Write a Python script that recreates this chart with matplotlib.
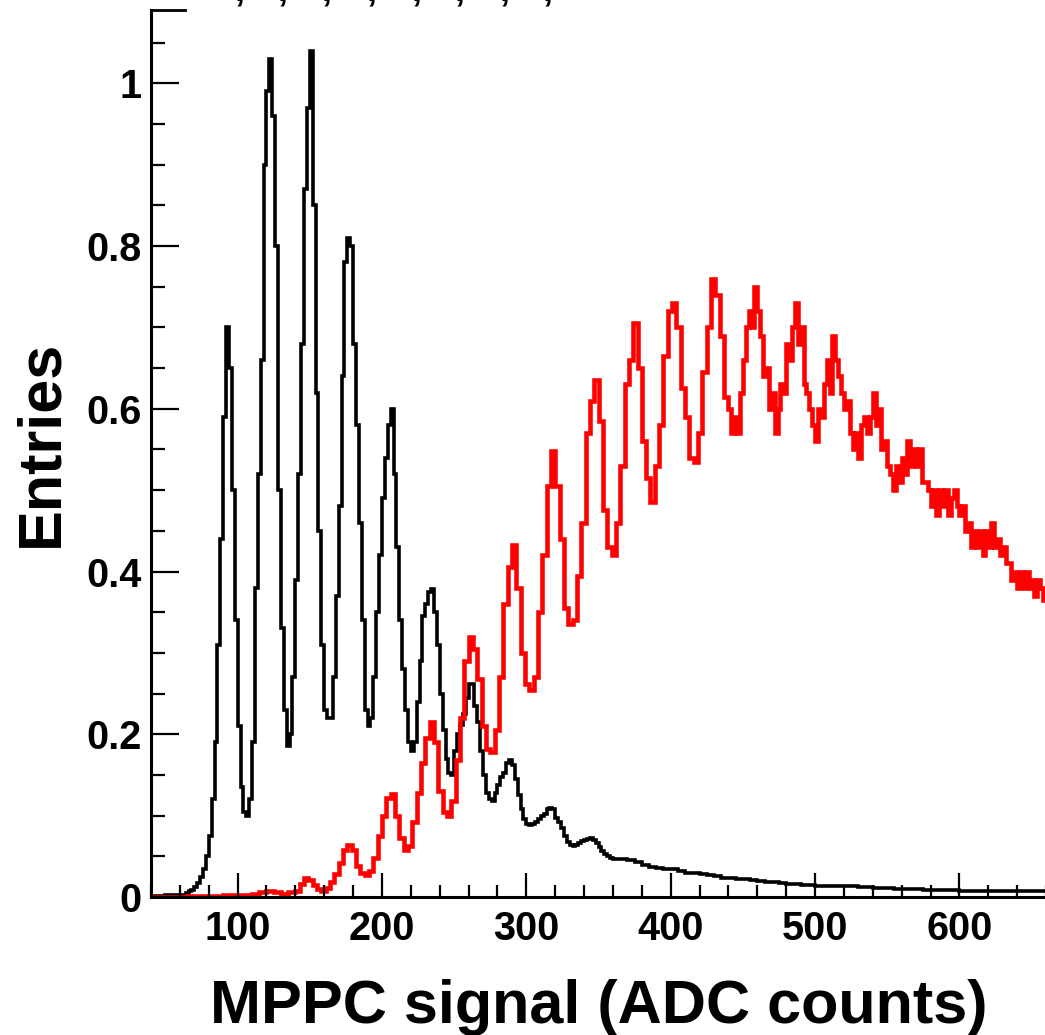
#!/usr/bin/env python3
"""MPPC charge spectra: two overlaid histograms (black / red), ROOT-style frame."""
import matplotlib

matplotlib.use("Agg")
import matplotlib.pyplot as plt
import numpy as np
from matplotlib.ticker import MultipleLocator, FuncFormatter

plt.rcParams["font.family"] = ["Liberation Sans", "DejaVu Sans"]
plt.rcParams["font.weight"] = "bold"

BLACK = "#000000"
RED = "#ff0000"

# black histogram: 5-count bins 40-60, 2-count bins 60-360, 5-count bins 360-660
black_edges = np.concatenate([np.arange(40, 60, 5), np.arange(60, 360, 2), np.arange(360, 661, 5)])
black_vals = [
    0.001, 0.001, 0.002, 0.002,
    0.003, 0.003, 0.005, 0.007, 0.009, 0.012, 0.017, 0.025, 0.035, 0.05,
    0.075, 0.12, 0.19, 0.31, 0.44, 0.59, 0.70, 0.65, 0.50, 0.34,
    0.21, 0.135, 0.105, 0.10, 0.12, 0.19, 0.38, 0.52, 0.66, 0.90,
    0.99, 1.03, 0.96, 0.80, 0.50, 0.33, 0.23, 0.185, 0.20, 0.27,
    0.39, 0.52, 0.68, 0.87, 0.97, 1.04, 0.85, 0.62, 0.45, 0.31,
    0.23, 0.22, 0.22, 0.27, 0.37, 0.48, 0.64, 0.78, 0.81, 0.80,
    0.68, 0.58, 0.46, 0.34, 0.23, 0.21, 0.22, 0.27, 0.35, 0.42,
    0.49, 0.54, 0.58, 0.60, 0.52, 0.43, 0.34, 0.28, 0.23, 0.19,
    0.18, 0.19, 0.24, 0.29, 0.345, 0.36, 0.375, 0.378, 0.35, 0.31,
    0.25, 0.205, 0.17, 0.152, 0.15, 0.18, 0.20, 0.212, 0.225, 0.245,
    0.262, 0.262, 0.235, 0.215, 0.18, 0.15, 0.128, 0.12, 0.118, 0.128,
    0.138, 0.148, 0.152, 0.165, 0.168, 0.162, 0.145, 0.125, 0.108, 0.096,
    0.09, 0.089, 0.09, 0.092, 0.096, 0.099, 0.102, 0.108, 0.11, 0.108,
    0.097, 0.092, 0.085, 0.075, 0.068, 0.064, 0.063, 0.064, 0.066, 0.069,
    0.07, 0.071, 0.072, 0.07, 0.066, 0.061, 0.057, 0.053, 0.05, 0.048,
    0.047, 0.047, 0.046, 0.043, 0.039, 0.037, 0.036, 0.035, 0.034, 0.032,
    0.030, 0.029, 0.028, 0.027, 0.026, 0.024, 0.023, 0.022, 0.022, 0.021,
    0.020, 0.019, 0.018, 0.017, 0.016, 0.016, 0.015, 0.015, 0.014, 0.014,
    0.014, 0.013, 0.013, 0.013, 0.012, 0.012, 0.011, 0.011, 0.011, 0.010,
    0.010, 0.010, 0.010, 0.009, 0.009, 0.009, 0.009, 0.009, 0.008, 0.008,
    0.008, 0.008, 0.008, 0.008, 0.008, 0.007, 0.007, 0.007, 0.007, 0.007,
]

# red histogram: 5-count bins 40-140, 3-count bins 140-440, 2-count bins 440-660
red_edges = np.concatenate([np.arange(40, 140, 5), np.arange(140, 440, 3), np.arange(440, 661, 2)])
red_vals = [
    0.0, 0.0, 0.0, 0.0005, 0.0005, 0.001, 0.001, 0.001, 0.0015, 0.0015,
    0.002, 0.002, 0.002, 0.003, 0.004, 0.006, 0.007, 0.006, 0.004, 0.006,
    0.008, 0.016, 0.023, 0.021, 0.015, 0.010, 0.008, 0.011, 0.018, 0.028,
    0.042, 0.058, 0.064, 0.058, 0.038, 0.030, 0.027, 0.032, 0.048, 0.075,
    0.100, 0.122, 0.127, 0.100, 0.072, 0.058, 0.063, 0.092, 0.128, 0.165,
    0.195, 0.215, 0.190, 0.130, 0.105, 0.100, 0.118, 0.168, 0.220, 0.290,
    0.320, 0.305, 0.268, 0.210, 0.182, 0.178, 0.205, 0.270, 0.360, 0.405,
    0.432, 0.380, 0.300, 0.262, 0.255, 0.270, 0.350, 0.420, 0.505, 0.548,
    0.505, 0.440, 0.355, 0.335, 0.340, 0.395, 0.460, 0.570, 0.610, 0.635,
    0.585, 0.475, 0.430, 0.420, 0.460, 0.530, 0.630, 0.660, 0.705, 0.650,
    0.560, 0.515, 0.485, 0.530, 0.580, 0.665, 0.720, 0.730, 0.700, 0.625,
    0.590, 0.540, 0.535, 0.570, 0.645, 0.700, 0.760, 0.740, 0.690, 0.615,
    0.60, 0.57, 0.59, 0.57, 0.62, 0.66, 0.70, 0.72, 0.70, 0.75,
    0.72, 0.69, 0.64, 0.65, 0.60, 0.62, 0.57, 0.60, 0.63, 0.62,
    0.68, 0.66, 0.70, 0.73, 0.68, 0.70, 0.63, 0.62, 0.60, 0.58,
    0.56, 0.60, 0.59, 0.63, 0.66, 0.62, 0.69, 0.66, 0.64, 0.62,
    0.60, 0.61, 0.57, 0.55, 0.57, 0.54, 0.58, 0.59, 0.57, 0.59,
    0.62, 0.58, 0.60, 0.55, 0.56, 0.53, 0.52, 0.50, 0.53, 0.51,
    0.54, 0.52, 0.56, 0.53, 0.55, 0.53, 0.55, 0.51, 0.51, 0.50,
    0.48, 0.50, 0.47, 0.50, 0.48, 0.50, 0.47, 0.49, 0.50, 0.48,
    0.47, 0.48, 0.45, 0.46, 0.43, 0.45, 0.43, 0.45, 0.42, 0.45,
    0.43, 0.46, 0.43, 0.44, 0.42, 0.43, 0.41, 0.41, 0.39, 0.40,
    0.38, 0.40, 0.38, 0.40, 0.38, 0.39, 0.37, 0.39, 0.38, 0.365,
]

X_RANGE = (40, 660)
Y_RANGE = (0, 1.09)
X_LABEL = "MPPC signal (ADC counts)"
Y_LABEL = "Entries"

fig = plt.figure(figsize=(10.45, 10.35), dpi=100)
ax = fig.add_axes([0.1445, 0.1333, 0.8565, 0.857])

ax.stairs(black_vals, black_edges[: len(black_vals) + 1], baseline=None, color=BLACK, lw=2.6)
ax.stairs(red_vals, red_edges[: len(red_vals) + 1], baseline=None, color=RED, lw=3.3)

ax.set_xlim(*X_RANGE)
ax.set_ylim(*Y_RANGE)

for side in ("top", "right"):
    ax.spines[side].set_visible(False)
for side in ("left", "bottom"):
    ax.spines[side].set_linewidth(2.2)
# short stub where the frame is cut at the top
ax.axhline(Y_RANGE[1], xmin=0, xmax=0.038, color=BLACK, lw=2.0, clip_on=False)

ax.xaxis.set_major_locator(MultipleLocator(100))
ax.xaxis.set_minor_locator(MultipleLocator(20))
ax.yaxis.set_major_locator(MultipleLocator(0.2))
ax.yaxis.set_minor_locator(MultipleLocator(0.05))
ax.yaxis.set_major_formatter(FuncFormatter(lambda v, _: f"{v:g}"))

ax.tick_params(axis="x", which="major", direction="in", length=17, width=1.6,
               labelsize=28.5, pad=9)
ax.tick_params(axis="x", which="minor", direction="in", length=8.5, width=1.6)
ax.tick_params(axis="y", which="major", direction="in", length=20, width=1.6,
               labelsize=28.5, pad=6.5)
ax.tick_params(axis="y", which="minor", direction="in", length=10, width=1.6)
for lab in ax.get_xticklabels() + ax.get_yticklabels():
    lab.set_fontweight("bold")

fig.text(0.573, 0.0116, X_LABEL, fontsize=44, fontweight="bold",
         ha="center", va="baseline")
fig.text(0.040, 0.572, Y_LABEL, fontsize=44, fontweight="bold",
         rotation=90, ha="center", va="center")

# comma tails of a clipped line of text above the frame
for xp in (240, 283, 327, 372, 417, 460, 505, 548):
    fig.text(xp / 1045, 1.0, ",", fontsize=26, fontweight="bold",
             ha="center", va="baseline")

fig.savefig("out.png", dpi=100)
